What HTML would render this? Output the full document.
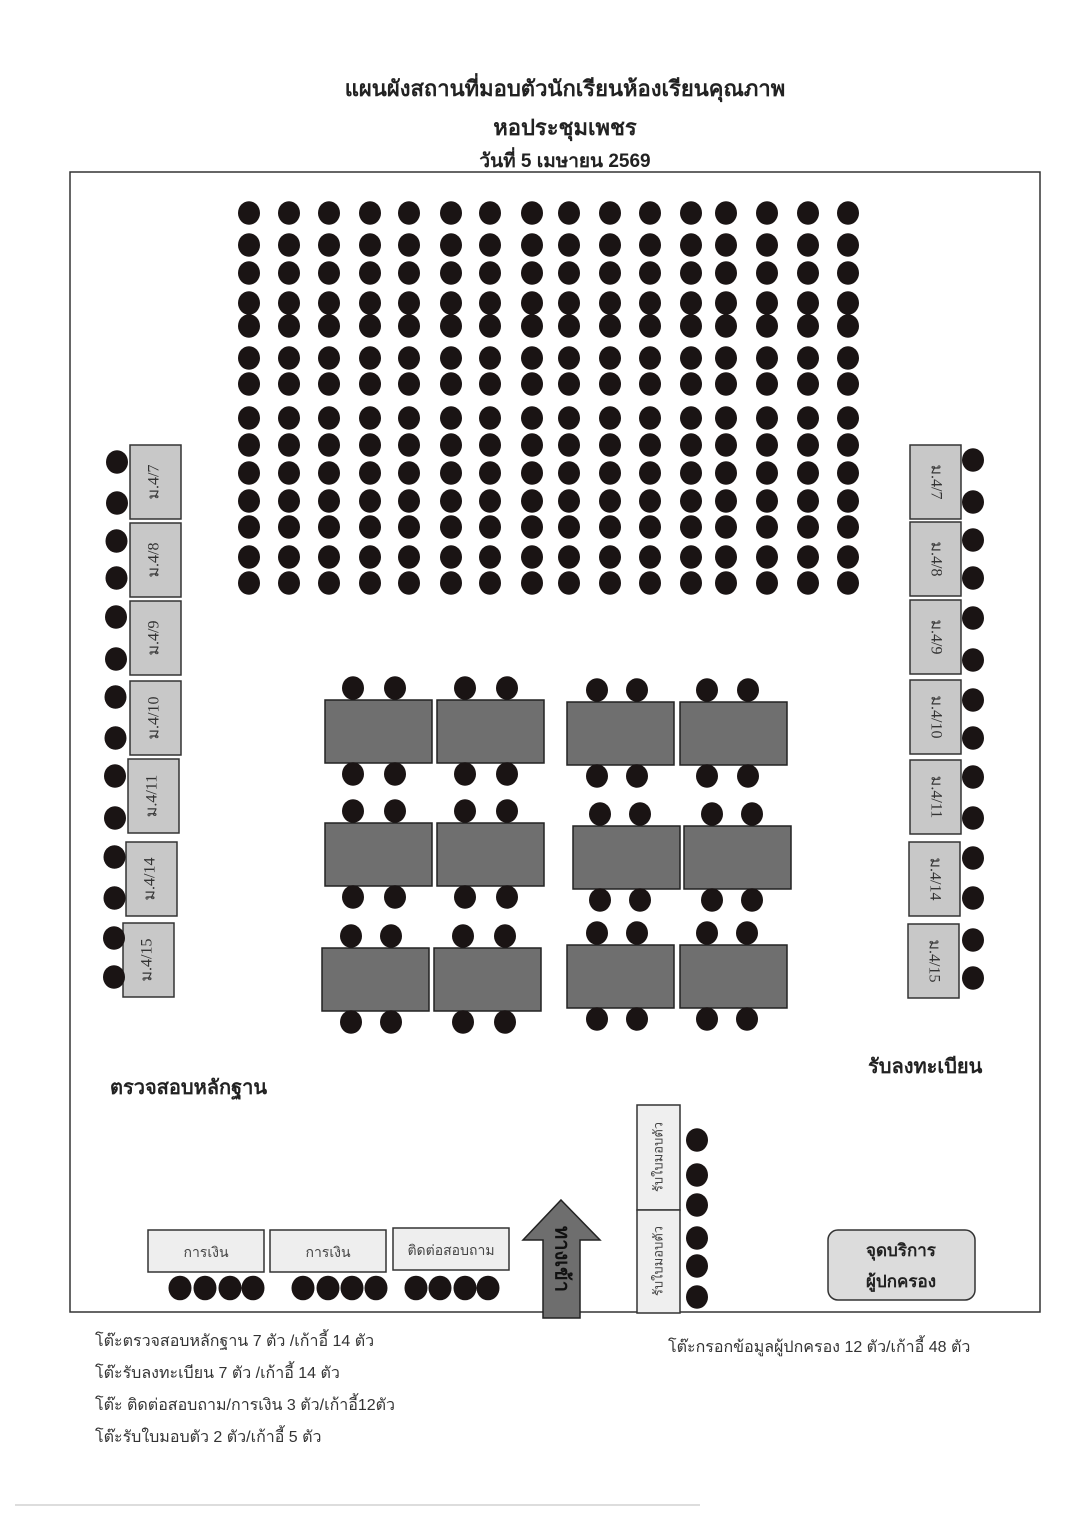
<!DOCTYPE html>
<html><head><meta charset="utf-8"><style>
html,body{margin:0;padding:0;background:#fff;}
svg{display:block;}
.t{font-family:"Liberation Sans","Noto Sans CJK SC",sans-serif;}
</style></head><body>
<svg width="1076" height="1520" viewBox="0 0 1076 1520" xmlns="http://www.w3.org/2000/svg">
<g class="t" fill="#222" text-anchor="middle" font-weight="bold">
<text x="565" y="96" font-size="22">แผนผังสถานที่มอบตัวนักเรียนห้องเรียนคุณภาพ</text>
<text x="565" y="135" font-size="22">หอประชุมเพชร</text>
<text x="565" y="167" font-size="19">วันที่ 5 เมษายน 2569</text>
</g>
<rect x="70" y="172" width="970" height="1140" fill="none" stroke="#333" stroke-width="1.5"/>
<g fill="#1a1414" id="grid"></g>
<g id="rest"></g>
<g class="t" font-weight="bold" fill="#222" font-size="20">
<text x="110" y="1094">ตรวจสอบหลักฐาน</text>
<text x="868" y="1073">รับลงทะเบียน</text>
</g>
<polygon points="561,1200 600,1240 580,1240 580,1318 543,1318 543,1240 523,1240" fill="#6e6e6e" stroke="#222" stroke-width="1.5"/>
<text class="t" x="561" y="1259" font-size="20" font-weight="bold" fill="#111" text-anchor="middle" dominant-baseline="middle" transform="rotate(90 561 1259)">ทางเข้า</text>
<rect x="637" y="1105" width="43" height="105" fill="#efefef" stroke="#333" stroke-width="1.5"/>
<rect x="637" y="1210" width="43" height="103" fill="#efefef" stroke="#333" stroke-width="1.5"/>
<text class="t" x="659" y="1157" font-size="13" fill="#444" text-anchor="middle" dominant-baseline="middle" transform="rotate(-90 659 1157)">รับใบมอบตัว</text>
<text class="t" x="659" y="1261" font-size="13" fill="#444" text-anchor="middle" dominant-baseline="middle" transform="rotate(-90 659 1261)">รับใบมอบตัว</text>
<rect x="828" y="1230" width="147" height="70" rx="10" fill="#dcdcdc" stroke="#333" stroke-width="1.5"/>
<text class="t" x="901" y="1256" font-size="17" font-weight="bold" fill="#222" text-anchor="middle">จุดบริการ</text>
<text class="t" x="901" y="1287" font-size="17" font-weight="bold" fill="#222" text-anchor="middle">ผู้ปกครอง</text>
<g class="t" font-size="16" fill="#333">
<text x="95" y="1346">โต๊ะตรวจสอบหลักฐาน 7 ตัว /เก้าอี้ 14 ตัว</text>
<text x="95" y="1378">โต๊ะรับลงทะเบียน 7 ตัว /เก้าอี้ 14 ตัว</text>
<text x="95" y="1410">โต๊ะ ติดต่อสอบถาม/การเงิน 3 ตัว/เก้าอี้12ตัว</text>
<text x="95" y="1442">โต๊ะรับใบมอบตัว 2 ตัว/เก้าอี้ 5 ตัว</text>
<text x="668" y="1352">โต๊ะกรอกข้อมูลผู้ปกครอง 12 ตัว/เก้าอี้ 48 ตัว</text>
</g>
<line x1="15" y1="1505" x2="700" y2="1505" stroke="#bbb" stroke-width="1"/>
<script>
var NS="http://www.w3.org/2000/svg";
function el(n,a,p){var e=document.createElementNS(NS,n);for(var k in a)e.setAttribute(k,a[k]);(p||document.getElementById('rest')).appendChild(e);return e;}
function dot(x,y,r){el('ellipse',{cx:x,cy:y,rx:r||11,ry:(r||11)+0.8,fill:'#1a1414'});}
var cx=[249,289,329,370,409,451,490,532,569,610,650,691,726,767,808,848];
var ry=[213,245,273,303,326,358,384,418,445,473,501,527,557,583];
cx.forEach(function(x){ry.forEach(function(y){dot(x,y);});});
// side tables
var L=[[130,445,"ม.4/7"],[130,523,"ม.4/8"],[130,601,"ม.4/9"],[130,681,"ม.4/10"],[128,759,"ม.4/11"],[126,842,"ม.4/14"],[123,923,"ม.4/15"]];
L.forEach(function(t){el('rect',{x:t[0],y:t[1],width:51,height:74,fill:'#c8c8c8',stroke:'#333','stroke-width':1.5});
var tx=el('text',{x:t[0]+25,y:t[1]+37,'font-size':16,'font-family':'Liberation Serif,serif',fill:'#333','text-anchor':'middle','dominant-baseline':'middle',transform:'rotate(-90 '+(t[0]+25)+' '+(t[1]+37)+')'});tx.textContent=t[2];});
var R=[[910,445,"ม.4/7"],[910,522,"ม.4/8"],[910,600,"ม.4/9"],[910,680,"ม.4/10"],[910,760,"ม.4/11"],[909,842,"ม.4/14"],[908,924,"ม.4/15"]];
R.forEach(function(t){el('rect',{x:t[0],y:t[1],width:51,height:74,fill:'#c8c8c8',stroke:'#333','stroke-width':1.5});
var tx=el('text',{x:t[0]+25,y:t[1]+37,'font-size':16,'font-family':'Liberation Serif,serif',fill:'#333','text-anchor':'middle','dominant-baseline':'middle',transform:'rotate(90 '+(t[0]+25)+' '+(t[1]+37)+')'});tx.textContent=t[2];});
[462,503,541,578,617,659,697,738,776,818,857,898,938,977].forEach(function(y,i){dot(117-Math.floor(i/2)*0.5,y);});
[460,502,540,578,618,660,700,738,777,818,858,898,940,978].forEach(function(y){dot(973,y);});
// center tables
var C=[
[[325,700,353,395],[437,700,465,507],[567,702,597,637],[680,702,707,748]],
[[325,823,353,395],[437,823,465,507],[573,826,600,640],[684,826,712,752]],
[[322,948,351,391],[434,948,463,505],[567,945,597,637],[680,945,707,747]]];
C.forEach(function(row){row.forEach(function(t){el('rect',{x:t[0],y:t[1],width:107,height:63,fill:'#6f6f6f',stroke:'#222','stroke-width':1.5});
dot(t[2],t[1]-12);dot(t[3],t[1]-12);dot(t[2],t[1]+74);dot(t[3],t[1]+74);});});
// bottom tables
[[148,1230,"การเงิน"],[270,1230,"การเงิน"],[393,1228,"ติดต่อสอบถาม"]].forEach(function(t){el('rect',{x:t[0],y:t[1],width:116,height:42,fill:'#eeeeee',stroke:'#333','stroke-width':1.5});
var tx=el('text',{x:t[0]+58,y:t[1]+27,'font-size':14,'font-family':'Liberation Sans,sans-serif',fill:'#444','text-anchor':'middle'});tx.textContent=t[2];});
[180,205,230,253,303,328,352,376,416,440,465,488].forEach(function(x){dot(x,1288,11.5);});
[1140,1175,1205,1238,1266,1297].forEach(function(y){dot(697,y);});
</script>
</svg>
</body></html>
